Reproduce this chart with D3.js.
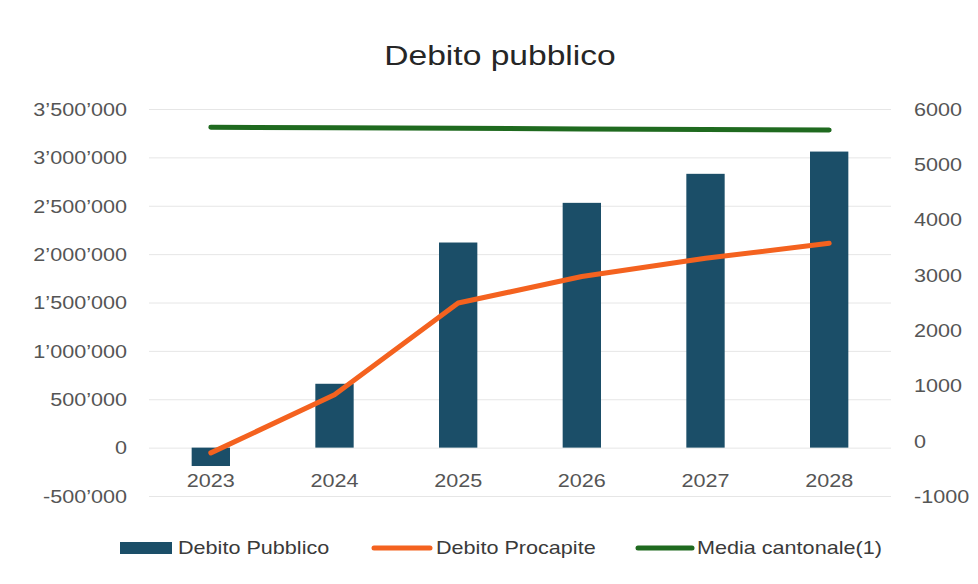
<!DOCTYPE html>
<html>
<head>
<meta charset="utf-8">
<script src="https://cdn.jsdelivr.net/npm/d3@7"></script>
<style>
  html, body { margin: 0; padding: 0; background: #fff; }
  svg { display: block; }
  text { font-family: "Liberation Sans", Arial, sans-serif; }
</style>
</head>
<body>
<svg id="chart" width="978" height="584"></svg>
<script>
// ---- data ----
const years = ["2023", "2024", "2025", "2026", "2027", "2028"];
const debitoPubblico = [-190000, 660000, 2120000, 2530000, 2830000, 3060000];
const debitoProcapite = [-220, 830, 2490, 2970, 3300, 3570];
const mediaCantonale = [5670, 5660, 5650, 5640, 5630, 5620];
const leftTicks = [-500000, 0, 500000, 1000000, 1500000, 2000000, 2500000, 3000000, 3500000];
const rightTicks = [-1000, 0, 1000, 2000, 3000, 4000, 5000, 6000];
const seriesNames = ["Debito Pubblico", "Debito Procapite", "Media cantonale(1)"];
const title = "Debito pubblico";

// ---- styles ----
const C_BAR = "#1b4e68", C_ORANGE = "#f4621f", C_GREEN = "#1f6a1f";
const C_TICK = "#555555", C_TITLE = "#262626", C_GRID = "#e6e6e6";
const SX = 1.2; // horizontal text stretch

const svg = d3.select("#chart");
const plot = { left: 149, right: 891, top: 109, bottom: 496 };

const x = d3.scaleBand().domain(years).range([plot.left, plot.right])
  .paddingInner(0.69).paddingOuter(0.345);
const yL = d3.scaleLinear().domain([-500000, 3500000]).range([plot.bottom, plot.top]);
const yR = d3.scaleLinear().domain([-1000, 6000]).range([plot.bottom, plot.top]);

function stretchedText(g, tx, ty, str, size, anchor, color) {
  return g.append("text")
    .attr("transform", `translate(${tx},${ty}) scale(${SX},1)`)
    .attr("text-anchor", anchor)
    .attr("font-size", size)
    .attr("fill", color)
    .text(str);
}

// title
stretchedText(svg, 500, 65, title, 28, "middle", C_TITLE);

// gridlines
svg.append("g").selectAll("line").data(leftTicks).join("line")
  .attr("x1", plot.left).attr("x2", plot.right)
  .attr("y1", d => yL(d) + 0.5).attr("y2", d => yL(d) + 0.5)
  .attr("stroke", C_GRID).attr("stroke-width", 1);

// left axis
const fmt = d => d3.format(",")(d).replace(/,/g, "\u2019").replace("\u2212", "-");
const gL = svg.append("g").attr("transform", "translate(127,0)")
  .call(d3.axisLeft(yL).tickValues(leftTicks).tickSize(0).tickFormat(fmt));
gL.select(".domain").remove();
gL.selectAll(".tick text").attr("x", 0).attr("dy", "0.35em")
  .attr("font-size", 18).attr("fill", C_TICK)
  .attr("font-family", "Liberation Sans, Arial, sans-serif")
  .attr("text-anchor", "end")
  .attr("transform", `scale(${SX},1)`);

// right axis
const gR = svg.append("g").attr("transform", "translate(914,0)")
  .call(d3.axisRight(yR).tickValues(rightTicks).tickSize(0)
    .tickFormat(d => d3.format("d")(d).replace("\u2212", "-")));
gR.select(".domain").remove();
gR.selectAll(".tick text").attr("x", 0).attr("dy", "0.35em")
  .attr("font-size", 18).attr("fill", C_TICK)
  .attr("font-family", "Liberation Sans, Arial, sans-serif")
  .attr("text-anchor", "start")
  .attr("transform", `scale(${SX},1)`);

// bars
svg.append("g").selectAll("rect").data(years).join("rect")
  .attr("x", d => x(d))
  .attr("width", x.bandwidth())
  .attr("y", (d, i) => Math.min(yL(debitoPubblico[i]), yL(0)))
  .attr("height", (d, i) => Math.abs(yL(debitoPubblico[i]) - yL(0)))
  .attr("fill", C_BAR);

// x labels
const gX = svg.append("g");
years.forEach(y => stretchedText(gX, x(y) + x.bandwidth() / 2, 487, y, 18, "middle", C_TICK));

// lines
const cx = d => x(d) + x.bandwidth() / 2;
const lineR = d3.line().x((d, i) => cx(years[i])).y(d => yR(d));
svg.append("path").datum(mediaCantonale)
  .attr("d", lineR).attr("fill", "none")
  .attr("stroke", C_GREEN).attr("stroke-width", 5)
  .attr("stroke-linecap", "round").attr("stroke-linejoin", "round");
svg.append("path").datum(debitoProcapite)
  .attr("d", lineR).attr("fill", "none")
  .attr("stroke", C_ORANGE).attr("stroke-width", 5)
  .attr("stroke-linecap", "round").attr("stroke-linejoin", "round");

// legend
const lg = svg.append("g");
const ly = 548;
lg.append("rect").attr("x", 120).attr("y", ly - 6).attr("width", 52).attr("height", 12).attr("fill", C_BAR);
stretchedText(lg, 178, ly + 6, seriesNames[0], 18, "start", "#3a3a3a");
lg.append("line").attr("x1", 374).attr("x2", 430).attr("y1", ly).attr("y2", ly)
  .attr("stroke", C_ORANGE).attr("stroke-width", 5).attr("stroke-linecap", "round");
stretchedText(lg, 436, ly + 6, seriesNames[1], 18, "start", "#3a3a3a");
lg.append("line").attr("x1", 638).attr("x2", 692).attr("y1", ly).attr("y2", ly)
  .attr("stroke", C_GREEN).attr("stroke-width", 5).attr("stroke-linecap", "round");
stretchedText(lg, 697, ly + 6, seriesNames[2], 18, "start", "#3a3a3a");
</script>
</body>
</html>
